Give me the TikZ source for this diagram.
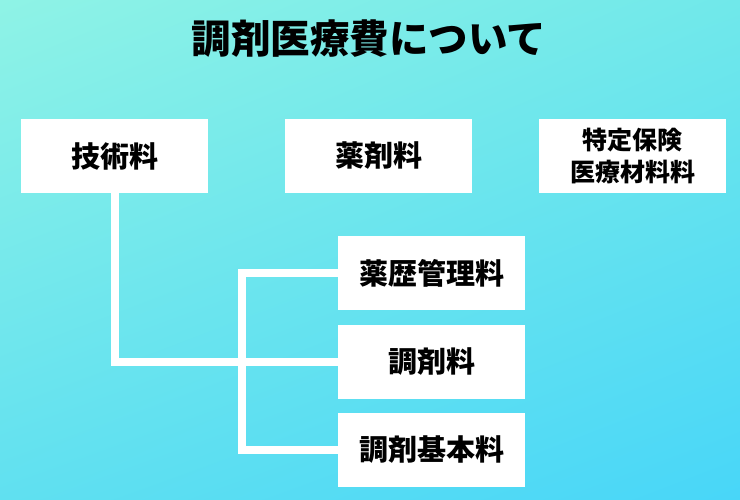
\documentclass[tikz,border=0pt]{standalone}
\usepackage{fontspec}
\setmainfont{Noto Sans CJK JP}
\usetikzlibrary{positioning, shadings}
\definecolor{bgul}{RGB}{143,243,230}
\definecolor{bgur}{RGB}{112,232,234}
\definecolor{bgll}{RGB}{96,224,240}
\definecolor{bglr}{RGB}{72,214,248}

\begin{document}
\begin{tikzpicture}[x=10pt,y=10pt]
\tikzstyle{every node}+=[inner sep=0pt]
\tikzstyle{box}=[rectangle, fill=white, minimum width=187pt, minimum height=74pt, font=\fontsize{29}{34}\selectfont\bfseries]
\tikzstyle{wire}=[draw=white, line width=8pt]
\shade [upper left=bgul, upper right=bgur, lower left=bgll, lower right=bglr] (0,0) rectangle (74,-50);
\node (title) at (36.9,-3.9) {\fontsize{39.5}{44}\selectfont\bfseries 調剤医療費について};
\node [box] (gijutsu) at (11.45,-15.6) {技術料};
\node [box] (yakuzai) at (37.85,-15.6) {薬剤料};
\node [box, align=center, font=\fontsize{25}{32}\selectfont\bfseries] (tokutei) at (63.25,-15.6) {特定保険\\医療材料料};
\node [box] (yakureki) at (43.15,-27.3) {薬歴管理料};
\node [box] (chozai) at (43.15,-36.2) {調剤料};
\node [box] (kihon) at (43.15,-45.0) {調剤基本料};
\coordinate (branch) at (24.2,-36.2);
\draw [wire] (gijutsu.south) |- (chozai.west);
\draw [wire] (yakureki.west) -| (branch) |- (kihon.west);
\end{tikzpicture}
\end{document}
